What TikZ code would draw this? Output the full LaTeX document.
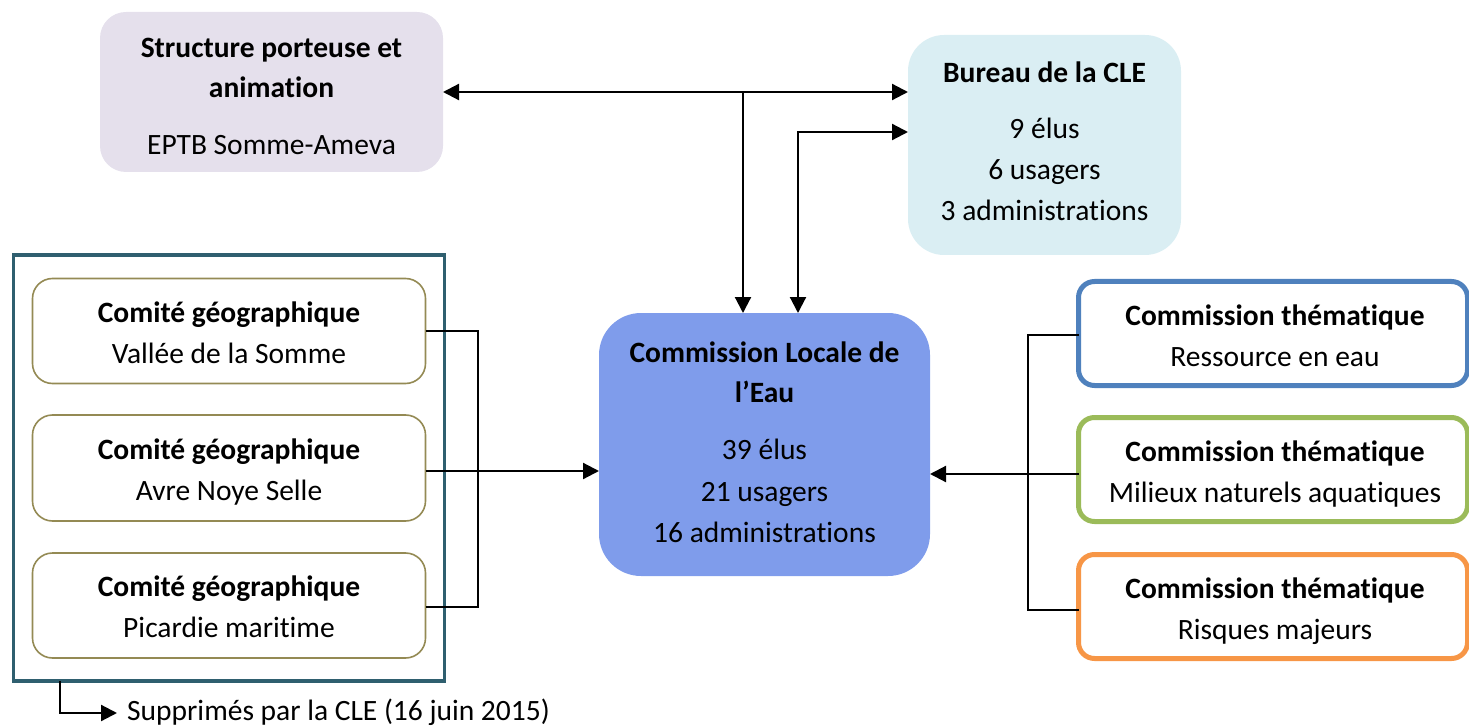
\documentclass[tikz,border=0pt]{standalone}
\usepackage{fontspec}
\setmainfont{Carlito}[Ligatures=NoCommon]
\usetikzlibrary{arrows.meta}
\definecolor{strfill}{HTML}{E5E0EC}
\definecolor{burfill}{HTML}{DAEEF3}
\definecolor{clefill}{HTML}{7F9CEB}
\definecolor{teal}{HTML}{2F5F6F}
\definecolor{olive}{HTML}{948A54}
\definecolor{cblue}{HTML}{4F81BD}
\definecolor{cgreen}{HTML}{9BBB59}
\definecolor{corange}{HTML}{F79646}
\tikzset{
  box/.style={minimum width=#1, inner sep=0pt, outer sep=0pt},
  txt/.style={anchor=base, inner sep=0pt, font=\fontsize{29.5}{35}\selectfont},
  btxt/.style={txt, font=\fontsize{29.5}{35}\selectfont\bfseries},
  comite/.style={draw=olive, line width=1.6pt, rounded corners=20pt, fill=white},
  comm/.style={draw=#1, line width=5pt, rounded corners=16pt, fill=white},
  conn/.style={line width=1.8pt, draw=black},
  arr/.style={line width=2.2pt, -{Triangle[length=16pt,width=16pt]}},
  darr/.style={line width=2.2pt, {Triangle[length=16pt,width=16pt]}-{Triangle[length=16pt,width=16pt]}},
}
\begin{document}
\begin{tikzpicture}[x=1pt,y=-1pt]
\useasboundingbox (0,0) rectangle (1469,727);
% boxes
\node[box=343pt, minimum height=160pt, fill=strfill, rounded corners=26pt] (str) at (271.5,92) {};
\node[box=273pt, minimum height=220pt, fill=burfill, rounded corners=36pt] (bur) at (1044.5,145) {};
\node[box=331pt, minimum height=263pt, fill=clefill, rounded corners=42pt] (cle) at (764.5,444.5) {};
\node[box=431pt, minimum height=426pt, draw=teal, line width=3.2pt] (outer) at (229,468) {};
\node[box=393pt, minimum height=105pt, comite] (g1) at (229,331) {};
\node[box=393pt, minimum height=106pt, comite] (g2) at (229,468) {};
\node[box=393pt, minimum height=105pt, comite] (g3) at (229,605.5) {};
\node[box=389pt, minimum height=104pt, comm=cblue] (c1) at (1273,333.5) {};
\node[box=389pt, minimum height=104pt, comm=cgreen] (c2) at (1273,469.5) {};
\node[box=389pt, minimum height=104pt, comm=corange] (c3) at (1273,606.5) {};
% texts
\node[btxt] (s1) at (271.5,58) {Structure porteuse et};
\node[btxt] (s2) at (271.5,98) {animation};
\node[txt] (s3) at (271.5,155) {EPTB Somme-Ameva};
\node[btxt] (b1) at (1044.5,83) {Bureau de la CLE};
\node[txt] (b2) at (1044.5,139) {9 élus};
\node[txt] (b3) at (1044.5,180) {6 usagers};
\node[txt] (b4) at (1044.5,221) {3 administrations};
\node[btxt] (l1) at (764.5,362) {Commission Locale de};
\node[btxt] (l2) at (764.5,402) {l’Eau};
\node[txt] (l3) at (764.5,459) {39 élus};
\node[txt] (l4) at (764.5,501) {21 usagers};
\node[txt] (l5) at (764.5,542) {16 administrations};
\node[btxt] (g1a) at (229,322) {Comité géographique};
\node[txt] (g1b) at (229,363) {Vallée de la Somme};
\node[btxt] (g2a) at (229,459) {Comité géographique};
\node[txt] (g2b) at (229,500) {Avre Noye Selle};
\node[btxt] (g3a) at (229,596) {Comité géographique};
\node[txt] (g3b) at (229,637) {Picardie maritime};
\node[btxt] (c1a) at (1275,325) {Commission thématique};
\node[txt] (c1b) at (1275,366) {Ressource en eau};
\node[btxt] (c2a) at (1275,461) {Commission thématique};
\node[txt] (c2b) at (1275,502) {Milieux naturels aquatiques};
\node[btxt] (c3a) at (1275,598) {Commission thématique};
\node[txt] (c3b) at (1275,639) {Risques majeurs};
\node[txt, anchor=base west] (sup) at (127,720) {Supprimés par la CLE (16 juin 2015)};
% coordinates
\coordinate (jl) at (478,471);
\coordinate (jr) at (1028,474);
\coordinate (t1) at (743,92);
\coordinate (t2) at (798,132);
\coordinate (bt) at (60,713);
% left connectors
\draw[conn] (g1.east) -| (jl);
\draw[conn] (g3.east |- 0,607) -| (jl);
\draw[conn] (g2.east |- jl) -- (jl);
\draw[arr] (jl) -- (jl -| cle.west);
% right connectors
\draw[conn] (c1.west |- 0,335) -| (jr);
\draw[conn] (c3.west |- 0,610) -| (jr);
\draw[conn] (c2.west |- jr) -- (jr);
\draw[arr] (jr) -- (jr -| cle.east);
% top
\draw[darr] (str.east |- t1) -- (t1 -| bur.west);
\draw[arr] (t1) -- (t1 |- cle.north);
\draw[darr] (t2 -| bur.west) -- (t2) -- (t2 |- cle.north);
% bottom
\draw[arr] (bt |- outer.south) -- (bt) -- ([xshift=-10pt]sup.west |- bt);
\end{tikzpicture}
\end{document}
